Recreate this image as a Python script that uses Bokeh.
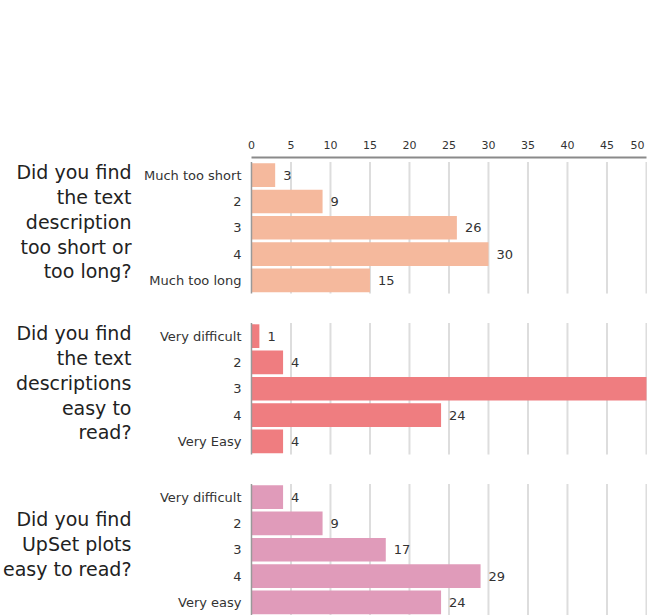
from bokeh.plotting import figure
from bokeh.models import Range1d, FixedTicker, ColumnDataSource, LinearAxis
from bokeh.embed import file_html
from bokeh.resources import INLINE
from bokeh.core.properties import value

# ---------------- data ----------------
questions = [
    "Did you find\nthe text\ndescription\ntoo short or\ntoo long?",
    "Did you find\nthe text\ndescriptions\neasy to\nread?",
    "Did you find\nUpSet plots\neasy to read?",
]
cats_length = ["Much too short", "2", "3", "4", "Much too long"]
vals_length = [3, 9, 26, 30, 15]
cats_text_read = ["Very difficult", "2", "3", "4", "Very Easy"]
vals_text_read = [1, 4, 50, 24, 4]
cats_upset = ["Very difficult", "2", "3", "4", "Very easy"]
vals_upset = [4, 9, 17, 29, 24]
x_ticks = [0, 5, 10, 15, 20, 25, 30, 35, 40, 45, 50]
x_max = 50

colors = ["#F5B99D", "#EF7D80", "#E09BBA"]
panels = [(cats_length, vals_length), (cats_text_read, vals_text_read), (cats_upset, vals_upset)]

# ---------------- layout constants (band units, 1 band = one bar slot) ----------------
FONT = "DejaVu Sans"
AXIS_Y = 5.97   # where the top axis line sits
OFF = 6.14      # top of first panel
PITCH = 6.12    # panel pitch
BAR_H = 0.9

p = figure(width=647, height=615, output_backend="svg", toolbar_location=None,
           x_range=Range1d(-31.77, 50.13), y_range=Range1d(23.38, 0),
           x_axis_location=None, y_axis_location=None,
           min_border_top=0, min_border_left=0, min_border_right=0, min_border_bottom=0)
p.grid.visible = False
p.outline_line_color = None
p.background_fill_color = "white"

ax = LinearAxis(fixed_location=AXIS_Y, ticker=FixedTicker(ticks=x_ticks), bounds=(0, x_max))
ax.axis_line_color = "#8a8a8a"
ax.axis_line_width = 2
ax.major_tick_line_color = None
ax.minor_tick_line_color = None
ax.major_label_text_font = FONT
ax.major_label_text_font_size = "11px"
ax.major_label_text_color = "#333333"
ax.major_label_standoff = 3
ax.major_label_overrides = {x_max: ""}
p.add_layout(ax, "above")

# last tick label, right-aligned so it stays inside the canvas
p.text(x=[x_max], y=[AXIS_Y], text=[str(x_max)], x_offset=-2, y_offset=-9, text_align="right",
       text_baseline="bottom", text_font=value(FONT), text_font_size="11px", text_color="#333333")

bar_rows = dict(y=[], v=[], cat=[], lab=[], color=[])
grid_rows = dict(x=[], y0=[], y1=[])
axis_rows = dict(y0=[], y1=[])
q_rows = dict(y=[], q=[])

for i, (cats, vals) in enumerate(panels):
    top = OFF + i * PITCH
    bottom = top + len(cats)
    for j, (c, v) in enumerate(zip(cats, vals)):
        bar_rows["y"].append(top + j + 0.5)
        bar_rows["v"].append(v)
        bar_rows["cat"].append(c)
        # a value label that would fall past the right edge is off-page in the reference
        bar_rows["lab"].append(str(v) if v < x_max else "")
        bar_rows["color"].append(colors[i])
    for t in x_ticks[1:]:
        grid_rows["x"].append(t)
        grid_rows["y0"].append(top)
        grid_rows["y1"].append(bottom)
    axis_rows["y0"].append(top)
    axis_rows["y1"].append(bottom)
    q_rows["y"].append((top + bottom) / 2)
    q_rows["q"].append(questions[i])

bars = ColumnDataSource(bar_rows)
grids = ColumnDataSource(grid_rows)
axes = ColumnDataSource(axis_rows)
qs = ColumnDataSource(q_rows)

p.segment(x0="x", x1="x", y0="y0", y1="y1", source=grids, line_color="#dddddd", line_width=2)
p.hbar(y="y", left=0, right="v", height=BAR_H, source=bars, fill_color="color", line_color=None)
p.segment(x0=0, x1=0, y0="y0", y1="y1", source=axes, line_color="#999999", line_width=1.5)

p.text(x="v", y="y", text="lab", source=bars, x_offset=8, text_align="left", text_baseline="middle",
       text_font=value(FONT), text_font_size="13px", text_color="#333333")
p.text(x=0, y="y", text="cat", source=bars, x_offset=-10, text_align="right", text_baseline="middle",
       text_font=value(FONT), text_font_size="13px", text_color="#333333")
p.text(x=0, y="y", text="q", source=qs, x_offset=-120, y_offset=-6, text_align="right",
       text_baseline="middle", text_font=value(FONT), text_font_size="19px", text_color="#222222",
       text_line_height=1.13)

open("out.html", "w").write(file_html(p, INLINE))
